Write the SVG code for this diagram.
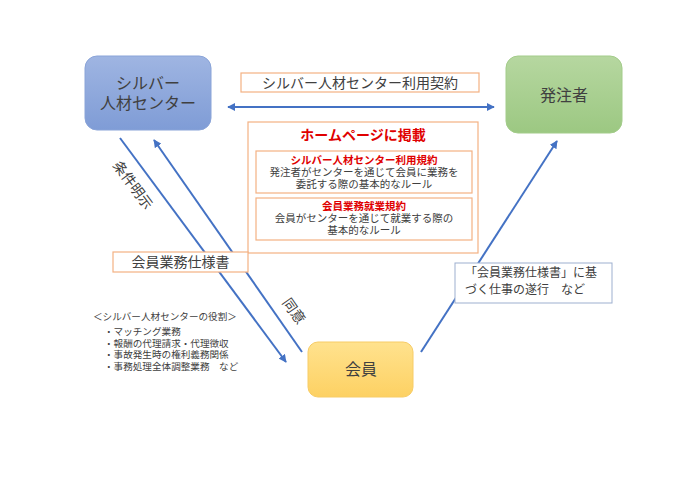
<svg xmlns="http://www.w3.org/2000/svg" width="700" height="494" viewBox="0 0 700 494">
<defs>
<linearGradient id="gBlue" x1="0" y1="0" x2="0" y2="1"><stop offset="0" stop-color="#9fb5e2"/><stop offset="1" stop-color="#7f9cd6"/></linearGradient>
<linearGradient id="gGreen" x1="0" y1="0" x2="0" y2="1"><stop offset="0" stop-color="#b6d7a0"/><stop offset="1" stop-color="#9cc882"/></linearGradient>
<linearGradient id="gYellow" x1="0" y1="0" x2="0" y2="1"><stop offset="0" stop-color="#ffe28e"/><stop offset="1" stop-color="#fdd163"/></linearGradient>
<marker id="ah" viewBox="0 0 10 10" refX="9" refY="5" markerWidth="4" markerHeight="4" orient="auto-start-reverse"><path d="M0,0 L10,5 L0,10 z" fill="#4472c4"/></marker>
<style>
text{font-family:"Noto Sans CJK JP","Noto Sans",sans-serif;fill:#404040}
.node{font-size:16px;text-anchor:middle}
.lbl{font-size:14px;text-anchor:middle}
.sm{font-size:10.5px;text-anchor:middle}
.red{fill:#e00000;font-weight:bold}
.ob{fill:#ffffff;stroke:#f4b183;stroke-width:1.2}
.conn{stroke:#4472c4;stroke-width:2;fill:none}
.role{font-size:9.6px}
</style>
</defs>
<rect width="700" height="494" fill="#ffffff"/>

<g id="connectors">
<line class="conn" x1="228" y1="107" x2="494" y2="107" marker-start="url(#ah)" marker-end="url(#ah)"/>
<line class="conn" x1="120" y1="138" x2="286" y2="362" marker-end="url(#ah)"/>
<line class="conn" x1="302" y1="352" x2="154" y2="140" marker-end="url(#ah)"/>
<line class="conn" x1="421" y1="352" x2="557" y2="141" marker-end="url(#ah)"/>
<text class="lbl" font-size="14" transform="translate(133,185) rotate(53.4)" dy="5">条件明示</text>
<text class="lbl" font-size="13" transform="translate(294,311) rotate(55)" dy="5">同意</text>
</g>

<g id="silver-center">
<rect x="85" y="56" width="126" height="74" rx="12" fill="url(#gBlue)" stroke="#8aa4d8" stroke-width="1"/>
<text class="node" x="148" y="89">シルバー</text>
<text class="node" x="148" y="109">人材センター</text>
</g>

<g id="client">
<rect x="506" y="56" width="116" height="77" rx="12" fill="url(#gGreen)" stroke="#a3cc8a" stroke-width="1"/>
<text class="node" x="564" y="101">発注者</text>
</g>

<g id="member">
<rect x="308" y="342" width="105" height="55" rx="10" fill="url(#gYellow)" stroke="#f7cc66" stroke-width="1"/>
<text class="node" x="361" y="375">会員</text>
</g>

<g id="contract-label">
<rect class="ob" x="241" y="73" width="238" height="19"/>
<text class="lbl" x="360" y="87.5">シルバー人材センター利用契約</text>
</g>

<g id="homepage">
<rect class="ob" x="248" y="122" width="230" height="131"/>
<text class="lbl red" font-size="15" x="363" y="139.5">ホームページに掲載</text>
<rect class="ob" x="256" y="151" width="216" height="42"/>
<text class="sm red" x="364" y="164">シルバー人材センター利用規約</text>
<text class="sm" x="364" y="176">発注者がセンターを通じて会員に業務を</text>
<text class="sm" x="364" y="188">委託する際の基本的なルール</text>
<rect class="ob" x="256" y="198" width="216" height="42"/>
<text class="sm red" x="364" y="210">会員業務就業規約</text>
<text class="sm" x="364" y="222">会員がセンターを通じて就業する際の</text>
<text class="sm" x="364" y="234">基本的なルール</text>
</g>

<g id="spec-label">
<rect class="ob" x="113" y="252" width="135" height="20"/>
<text class="lbl" x="180.5" y="267">会員業務仕様書</text>
</g>

<g id="work-label">
<rect x="455" y="263" width="157" height="40" fill="#ffffff" stroke="#9dafcf" stroke-width="1"/>
<text font-size="12" x="465" y="277">「会員業務仕様書」に基</text>
<text font-size="12" x="465" y="294">づく仕事の遂行　など</text>
</g>

<g id="roles">
<text class="role" x="93" y="320">＜シルバー人材センターの役割＞</text>
<text class="role" x="104" y="335">・マッチング業務</text>
<text class="role" x="104" y="347">・報酬の代理請求・代理徴収</text>
<text class="role" x="104" y="358">・事故発生時の権利義務関係</text>
<text class="role" x="104" y="370">・事務処理全体調整業務　など</text>
</g>
</svg>
